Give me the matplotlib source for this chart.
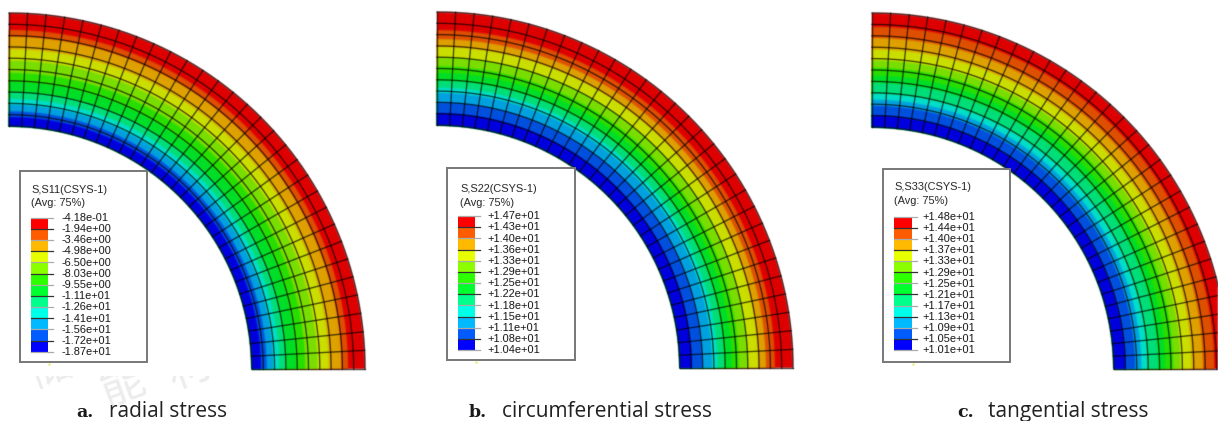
import numpy as np
import matplotlib
matplotlib.use("Agg")
import matplotlib.pyplot as plt
from matplotlib.colors import ListedColormap
from matplotlib.patches import Rectangle

# contour colours, inner (low) to outer (high)
band_colors = ["#0000ff", "#005cff", "#00b9ff", "#00ffe8", "#00ff8b", "#00ff2e",
               "#2eff00", "#8bff00", "#e8ff00", "#ffb900", "#ff5c00", "#ff0000"]

# band edges as fraction of wall thickness
edges_s11 = [0, .08, .13, .19, .24, .30, .39, .47, .58, .68, .79, .85, 1]
edges_s22 = [0, .105, .20, .285, .33, .39, .46, .52, .60, .69, .76, .84, 1]
edges_s33 = [0, .10, .187, .24, .29, .385, .45, .52, .585, .68, .78, .88, 1]

labels_s11 = ["-4.18e-01", "-1.94e+00", "-3.46e+00", "-4.98e+00", "-6.50e+00",
              "-8.03e+00", "-9.55e+00", "-1.11e+01", "-1.26e+01", "-1.41e+01",
              "-1.56e+01", "-1.72e+01", "-1.87e+01"]
labels_s22 = ["+1.47e+01", "+1.43e+01", "+1.40e+01", "+1.36e+01", "+1.33e+01",
              "+1.29e+01", "+1.25e+01", "+1.22e+01", "+1.18e+01", "+1.15e+01",
              "+1.11e+01", "+1.08e+01", "+1.04e+01"]
labels_s33 = ["+1.48e+01", "+1.44e+01", "+1.40e+01", "+1.37e+01", "+1.33e+01",
              "+1.29e+01", "+1.25e+01", "+1.21e+01", "+1.17e+01", "+1.13e+01",
              "+1.09e+01", "+1.05e+01", "+1.01e+01"]

titles = ["S,S11(CSYS-1)", "S,S22(CSYS-1)", "S,S33(CSYS-1)"]
captions = ["radial stress", "circumferential stress", "tangential stress"]
caption_tags = ["a.", "b.", "c."]

n_rows = 10
n_cols = 30

SHADE = 0.87
shaded = [tuple(SHADE * c for c in matplotlib.colors.to_rgb(h)) for h in band_colors]
cmap_bar = ListedColormap(band_colors)


def soft(sigma):
    # agg filter, the reference is a slightly blurred raster
    def _filter(img, dpi):
        pad = int(3 * sigma) + 1
        img = np.pad(img, ((pad, pad), (pad, pad), (0, 0)))
        x = np.arange(-pad, pad + 1)
        kern = np.exp(-x**2 / (2 * sigma**2))
        kern /= kern.sum()
        pre = img.copy()
        pre[..., :3] *= pre[..., 3:]
        for axis in (0, 1):
            pre = np.apply_along_axis(lambda m: np.convolve(m, kern, mode="same"), axis, pre)
        alpha = np.clip(pre[..., 3:], 1e-6, 1)
        pre[..., :3] = np.clip(pre[..., :3] / alpha, 0, 1)
        return pre, -pad, -pad
    return _filter


plt.rcParams["font.family"] = ["Liberation Sans", "DejaVu Sans"]
fig = plt.figure(figsize=(12.18, 4.21), dpi=100)
ax = fig.add_axes([0, 0, 1, 1])
ax.set_xlim(0, 1218)
ax.set_ylim(421, 0)
ax.axis("off")

# watermark is behind the chart images, only its lower part shows
for ch, x, y, rot in [("储", 50, 368, 20), ("能", 122, 385, 20), ("材", 190, 368, 20)]:
    ax.text(x, y, ch, fontsize=32, color="#ececec", rotation=rot, ha="center", va="center",
            family=["Noto Sans CJK SC", "DejaVu Sans"], zorder=0)
ax.add_patch(Rectangle((0, 0), 1218, 376, fc="white", ec="none", zorder=1))


def draw_panel(ox, oy, r_in, r_out, edges, labels, title, box, bar, text_x, title_xy):
    # contour bands, outermost first so neighbours blend when blurred
    theta = np.linspace(0, np.pi / 2, 181)
    radius = r_in + np.array(edges) * (r_out - r_in)
    for k in range(11, -1, -1):
        rr = np.r_[np.full(181, r_in), np.full(181, radius[k + 1])]
        tt = np.r_[theta, theta[::-1]]
        ax.fill(ox + rr * np.cos(tt), oy - rr * np.sin(tt), color=shaded[k], lw=0, zorder=2,
                agg_filter=soft(0.8))

    # element mesh
    mesh_kw = dict(color="black", lw=1.0, alpha=0.65, zorder=3, agg_filter=soft(0.5))
    for r in np.linspace(r_in, r_out, n_rows + 1):
        ax.plot(ox + r * np.cos(theta), oy - r * np.sin(theta), **mesh_kw)
    for t in np.linspace(0, np.pi / 2, n_cols + 1):
        ax.plot([ox + r_in * np.cos(t), ox + r_out * np.cos(t)],
                [oy - r_in * np.sin(t), oy - r_out * np.sin(t)], **mesh_kw)

    # legend box
    bx0, by0, bx1, by1 = box
    ax.add_patch(Rectangle((bx0, by0), bx1 - bx0, by1 - by0, fc="white", ec="#777777",
                           lw=1.4, zorder=4))
    ax.text(title_xy[0], title_xy[1], title, fontsize=7.9, va="center", color="#222222", zorder=5,
            agg_filter=soft(0.35))
    ax.text(title_xy[0], title_xy[1] + 13.5, "(Avg: 75%)", fontsize=7.9, va="center",
            color="#222222", zorder=5, agg_filter=soft(0.35))

    x0, x1, y0, y1 = bar
    ticks = np.linspace(y0, y1, 13)
    ax.pcolormesh([x0, x1], ticks, np.arange(11, -1, -1)[:, None], cmap=cmap_bar, vmin=-0.5,
                  vmax=11.5, shading="flat", zorder=5)
    for i, (y, lab) in enumerate(zip(ticks, labels)):
        ax.plot([x0, x1 + 5], [y, y], color="#333333" if i % 2 else "#aaaaaa", lw=0.9, zorder=6)
        ax.text(text_x, y + 0.3, lab, fontsize=7.9, va="center", color="#111111", zorder=6,
                agg_filter=soft(0.35))

    # tiny speck under the legend
    ax.plot([x1 + 1], [by1 + 2], marker="s", ms=1.6, color="#e8e860", mec="none", zorder=4)


draw_panel(9, 369, 243, 356, edges_s11, labels_s11, titles[0], (20, 171, 146.5, 362),
           (31, 47.7, 217.7, 351.7), 61.5, (31, 190))
draw_panel(437, 368, 243, 356, edges_s22, labels_s22, titles[1], (447, 168, 575, 360),
           (458.3, 474.7, 216, 350), 487.5, (460, 189))
draw_panel(872, 369, 242, 356, edges_s33, labels_s33, titles[2], (883, 169, 1010, 361.5),
           (894, 911.7, 216.7, 350), 922.5, (894, 187))

# captions
for tag, cap, tag_x, cap_x in zip(caption_tags, captions, [76, 469, 957], [109, 502, 988]):
    ax.text(tag_x, 417, tag, fontsize=12.5, fontweight="bold", va="baseline", color="#1a1a1a",
            family=["DejaVu Serif"], zorder=6)
    ax.text(cap_x, 417, cap, fontsize=15, va="baseline", color="#222222",
            family=["Open Sans", "DejaVu Sans"], zorder=6)

fig.savefig("out.png", dpi=100)
